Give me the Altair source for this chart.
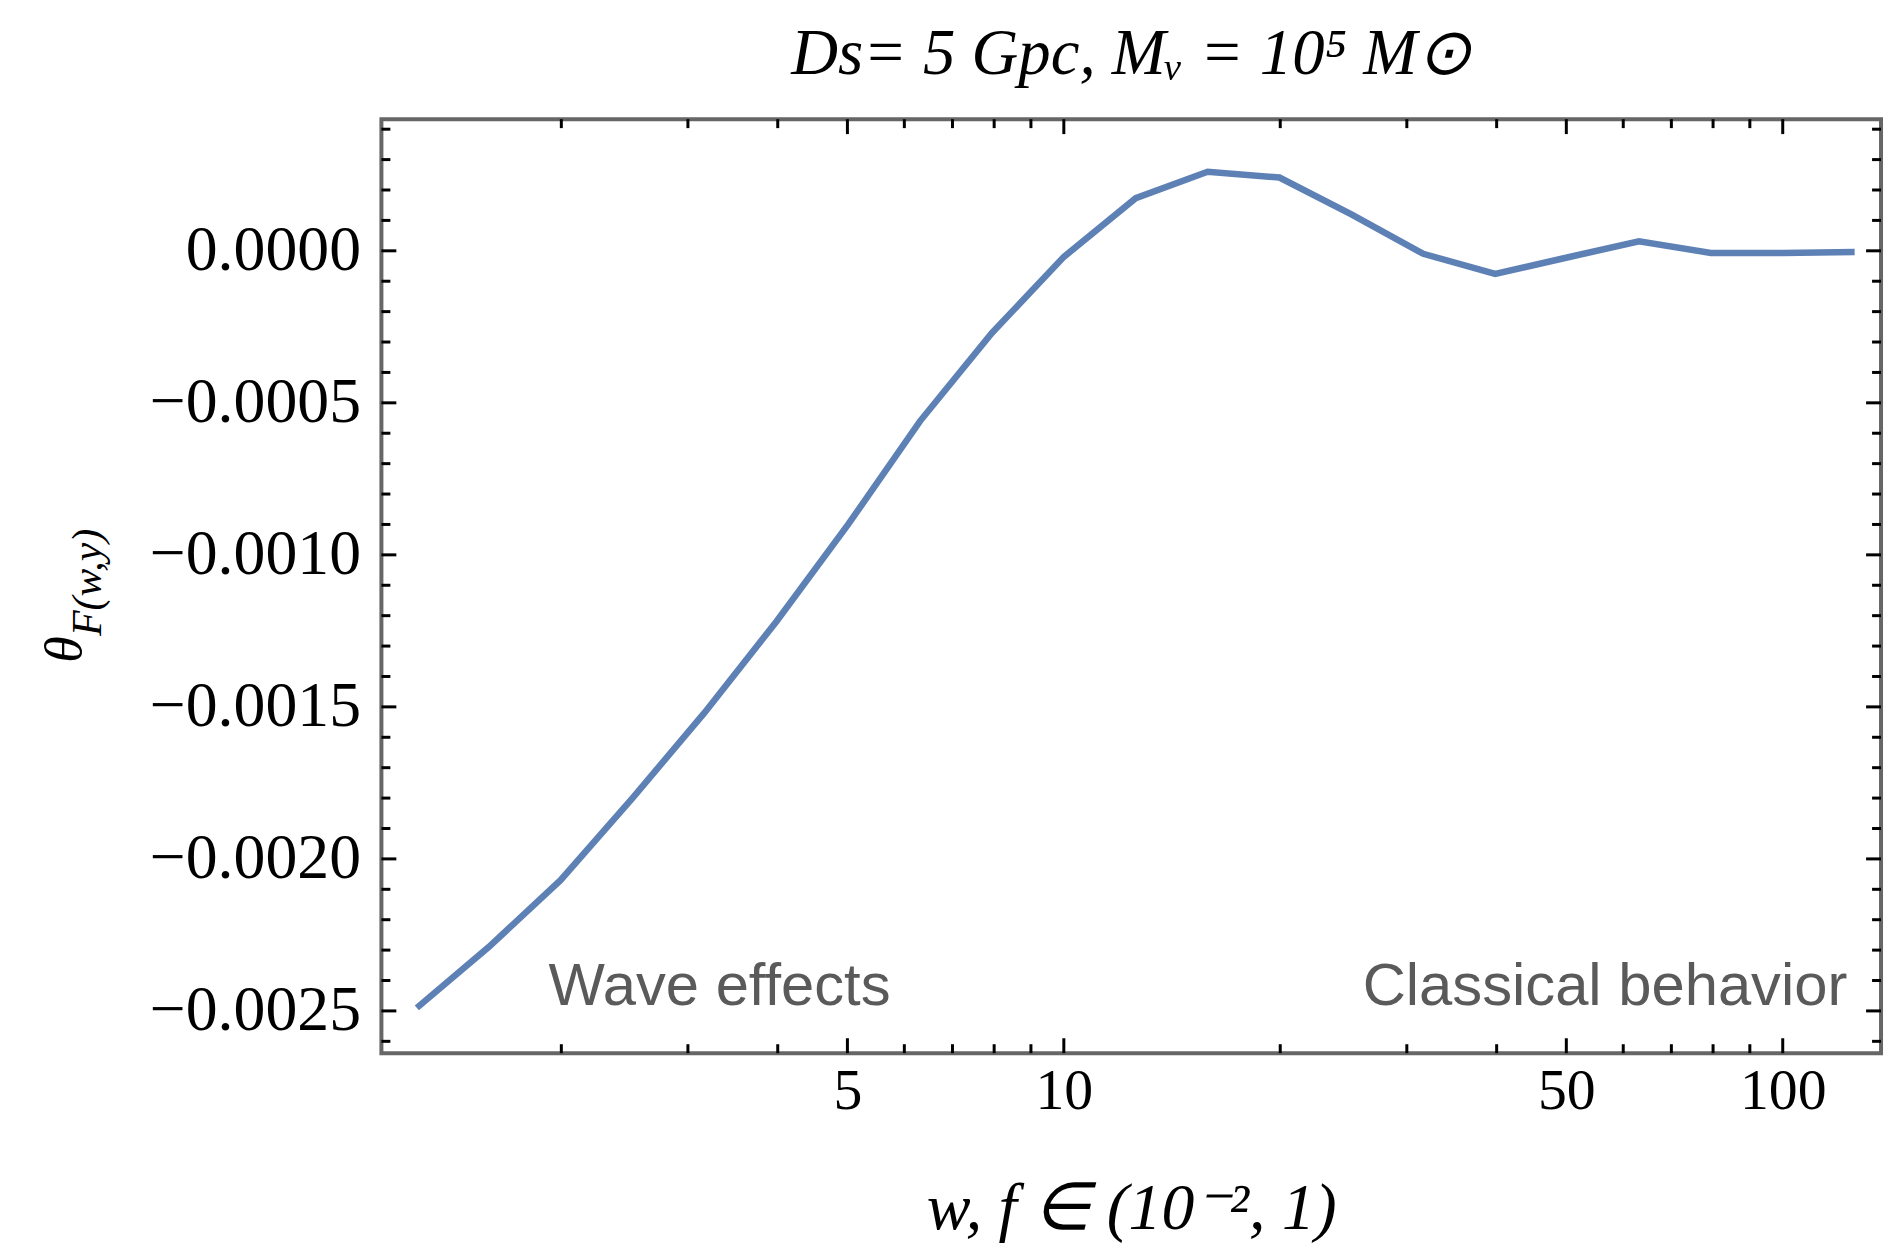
import altair as alt
import pandas as pd

# ---- data ----
W = [1.259, 1.585, 1.995, 2.512, 3.162, 3.981, 5.012, 6.310, 7.943, 10.0,
     12.59, 15.85, 19.95, 25.12, 31.62, 39.81, 50.12, 63.10, 79.43, 100.0, 125.9]
THETA = [-0.00249, -0.00229, -0.00207, -0.00180, -0.00152, -0.00122, -0.00090,
         -0.00056, -0.00027, -0.00002, 0.000173, 0.00026, 0.000241, 0.00012,
         -0.00001, -0.000076, -0.000022, 0.000031, -0.000007, -0.000007, -0.000004]

X_LABELS = [5, 10, 50, 100]
X_MINOR = [2, 3, 4, 6, 7, 8, 9, 20, 30, 40, 60, 70, 80, 90]
Y_MAJOR = [0.0, -0.0005, -0.0010, -0.0015, -0.0020, -0.0025]
Y_MINOR = [0.0004, 0.0003, 0.0002, 0.0001, -0.0001, -0.0002, -0.0003, -0.0004,
           -0.0006, -0.0007, -0.0008, -0.0009, -0.0011, -0.0012, -0.0013, -0.0014,
           -0.0016, -0.0017, -0.0018, -0.0019, -0.0021, -0.0022, -0.0023, -0.0024,
           -0.0026]

NOTES = ["Wave effects", "Classical behavior"]
NOTE_X = [1.92, 123.0]
NOTE_Y = [-0.00248, -0.00248]

X_DOMAIN = [1.124, 137.0]
Y_DOMAIN = [-0.002639, 0.000433]

W_PX, H_PX = 1506, 938
MAJ, MIN = 15, 9

xscale = alt.Scale(type="log", domain=X_DOMAIN, nice=False)
yscale = alt.Scale(domain=Y_DOMAIN, nice=False, zero=False)

X_AXIS = alt.Axis(values=X_LABELS, format="d", ticks=False, domain=False,
                  grid=False, labelFont="Liberation Serif", labelFontSize=58,
                  labelColor="black", labelPadding=10, labelOverlap=False,
                  labelFlush=False, labelLimit=400,
                  title="w, f ∈ (10⁻², 1)", titleFont="Liberation Serif",
                  titleFontStyle="italic", titleFontWeight="normal",
                  titleFontSize=66, titleColor="black",
                  titleBaseline="alphabetic", titleY=176)
Y_AXIS = alt.Axis(values=Y_MAJOR, format=".4f", ticks=False, domain=False,
                  grid=False, labelFont="Liberation Serif", labelFontSize=64,
                  labelColor="black", labelPadding=21, labelOverlap=False,
                  labelFlush=False, labelLimit=400, title=None)


def X(field):
    return alt.X(field, scale=xscale, axis=X_AXIS)


def Y(field):
    return alt.Y(field, scale=yscale, axis=Y_AXIS)


df = pd.DataFrame({"w": W, "theta": THETA})

line = alt.Chart(df).mark_line(color="#5E81B5", strokeWidth=6.5).encode(
    x=X("w:Q"), y=Y("theta:Q"))


def xticks(vals, length):
    d = pd.DataFrame({"v": vals})
    base = alt.Chart(d).mark_rule(color="black", strokeWidth=3)
    bottom = base.encode(x=X("v:Q"), y=alt.value(H_PX), y2=alt.value(H_PX - length))
    top = base.encode(x=X("v:Q"), y=alt.value(0), y2=alt.value(length))
    return [bottom, top]


def yticks(vals, length):
    d = pd.DataFrame({"v": vals})
    base = alt.Chart(d).mark_rule(color="black", strokeWidth=3)
    left = base.encode(y=Y("v:Q"), x=alt.value(0), x2=alt.value(length))
    right = base.encode(y=Y("v:Q"), x=alt.value(W_PX), x2=alt.value(W_PX - length))
    return [left, right]


notes_df = pd.DataFrame({"x": NOTE_X, "y": NOTE_Y, "t": NOTES})
note_left = alt.Chart(notes_df.iloc[[0]]).mark_text(
    align="left", baseline="alphabetic", font="Liberation Sans", fontSize=60,
    color="#5a5a5a").encode(x=X("x:Q"), y=Y("y:Q"), text="t:N")
note_right = alt.Chart(notes_df.iloc[[1]]).mark_text(
    align="right", baseline="alphabetic", font="Liberation Sans", fontSize=60,
    color="#5a5a5a").encode(x=X("x:Q"), y=Y("y:Q"), text="t:N")

ytitle_df = pd.DataFrame({"s": ["θ"]})
ytitle_main = alt.Chart(ytitle_df).mark_text(
    angle=270, align="left", baseline="middle", font="Liberation Serif",
    fontStyle="italic", fontSize=54, color="black").encode(
    x=alt.value(-318), y=alt.value(546), text="s:N")
ysub_df = pd.DataFrame({"s": ["F(w,y)"]})
ytitle_sub = alt.Chart(ysub_df).mark_text(
    angle=270, align="left", baseline="middle", font="Liberation Serif",
    fontStyle="italic", fontSize=42, color="black").encode(
    x=alt.value(-295), y=alt.value(519), text="s:N")

layers = [line]
layers += xticks(X_LABELS, MAJ) + xticks(X_MINOR, MIN)
layers += yticks(Y_MAJOR, MAJ) + yticks(Y_MINOR, MIN)
layers += [note_left, note_right, ytitle_main, ytitle_sub]

chart = alt.layer(*layers).properties(
    width=W_PX, height=H_PX,
    title=alt.TitleParams(text="Ds= 5 Gpc, Mᵥ = 10⁵ M⊙", font="Liberation Serif",
                          fontStyle="italic", fontWeight="normal", fontSize=65,
                          color="black", anchor="middle", baseline="alphabetic",
                          offset=39, dy=60),
    autosize=alt.AutoSizeParams(type="none"),
    padding={"left": 375, "top": 109, "right": 6, "bottom": 190},
).configure(background="white").configure_view(stroke="#666666", strokeWidth=4)

chart.save("out.html", embed_options={"renderer": "svg", "actions": False})
